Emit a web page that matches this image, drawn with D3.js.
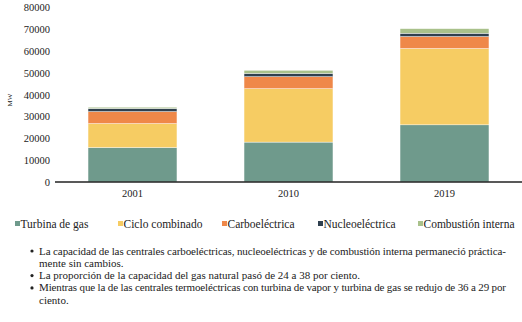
<!DOCTYPE html>
<html>
<head>
<meta charset="utf-8">
<script src="https://cdn.jsdelivr.net/npm/d3@7"></script>
<style>
    body { margin: 0; background: white; }
    svg text { font-family: 'Liberation Serif', serif !important; }
</style>
</head>
<body>
<svg width="522" height="322"></svg>
<script>
const years = ["2001", "2010", "2019"]
const series = ["Turbina de gas", "Ciclo combinado", "Carboeléctrica", "Nucleoeléctrica", "Combustión interna"]
const turbina = [15800, 18300, 26200]
const ciclo = [11000, 24500, 35000]
const carbo = [5500, 5500, 5500]
const nucleo = [1400, 1500, 1500]
const combustion = [600, 1400, 2100]
const yTicks = [0, 10000, 20000, 30000, 40000, 50000, 60000, 70000, 80000]
const notes = [
    ["La capacidad de las centrales carboeléctricas, nucleoeléctricas y de combustión interna permaneció práctica-", "mente sin cambios."],
    ["La proporción de la capacidad del gas natural pasó de 24 a 38 por ciento."],
    ["Mientras que la de las centrales termoeléctricas con turbina de vapor y turbina de gas se redujo de 36 a 29 por", "ciento."]
]

const colors = ["#6f9a8c", "#f6cc63", "#ef8849", "#2f404f", "#a9c18b"]

const svg = d3.select("svg")

// table for the stack
const table = years.map((y, i) => ({
    year: y,
    "Turbina de gas": turbina[i],
    "Ciclo combinado": ciclo[i],
    "Carboeléctrica": carbo[i],
    "Nucleoeléctrica": nucleo[i],
    "Combustión interna": combustion[i]
}))
const stacked = d3.stack().keys(series)(table)

const xScale = d3.scaleBand().domain(years).range([54.5, 522.5]).paddingInner(0.43).paddingOuter(0.215)
const yScale = d3.scaleLinear().domain([0, 80000]).range([182, 7.5])
const colorScale = d3.scaleOrdinal().domain(series).range(colors)

// y axis labels only
const yAxis = d3.axisLeft(yScale).tickValues(yTicks).tickSize(0).tickPadding(0).tickFormat(d3.format("d"))
svg.append("g")
    .attr("transform", "translate(50,0)")
    .call(yAxis)
    .call(g => g.select(".domain").remove())
    .selectAll("text")
    .style("font-size", "10.5px")
    .style("fill", "#222")

svg.append("text")
    .attr("transform", "translate(12,100) rotate(-90)")
    .style("text-anchor", "middle")
    .style("font-size", "7px")
    .style("fill", "#222")
    .text("MW")

// bars
svg.selectAll("g.layer")
    .data(stacked)
    .enter()
    .append("g")
    .attr("class", "layer")
    .style("fill", d => colorScale(d.key))
    .selectAll("rect")
    .data(d => d)
    .enter()
    .append("rect")
    .attr("x", d => xScale(d.data.year))
    .attr("width", xScale.bandwidth())
    .attr("y", d => yScale(d[1]))
    .attr("height", d => yScale(d[0]) - yScale(d[1]))
    .style("stroke", "white")
    .style("stroke-width", 0.4)

// bottom line
const xAxis = d3.axisBottom(xScale).tickSize(0).tickPadding(8)
svg.append("g")
    .attr("transform", "translate(0,182)")
    .call(xAxis)
    .call(g => g.select(".domain").attr("d", "M55,0H522").style("stroke", "#222").style("stroke-width", 1.5))
    .selectAll("text")
    .style("font-size", "10.5px")
    .style("fill", "#222")

// legend
const legendX = [15, 118, 222, 318, 418]
const legend = svg.selectAll("g.legend")
    .data(series)
    .enter()
    .append("g")
    .attr("class", "legend")
    .attr("transform", (d, i) => `translate(${legendX[i]},224)`)
legend.append("rect")
    .attr("x", 0)
    .attr("y", -3)
    .attr("width", 5)
    .attr("height", 5)
    .style("fill", d => colorScale(d))
legend.append("text")
    .attr("x", 5.5)
    .attr("y", 3.5)
    .style("font-size", "11.5px")
    .style("fill", "#222")
    .text(d => d)

// notes, long lines stretched to the justified width
let line = 0
notes.forEach(n => {
    svg.append("circle")
        .attr("cx", 32)
        .attr("cy", 251 + line * 12.3)
        .attr("r", 1.6)
        .style("fill", "#222")
    n.forEach((t, j) => {
        const txt = svg.append("text")
            .attr("x", 39)
            .attr("y", 254.5 + line * 12.3)
            .style("font-size", "11px")
            .style("fill", "#222")
            .text(t)
        if (j < n.length - 1) txt.attr("textLength", 467).attr("lengthAdjust", "spacing")
        line++
    })
})
</script>
</body>
</html>
